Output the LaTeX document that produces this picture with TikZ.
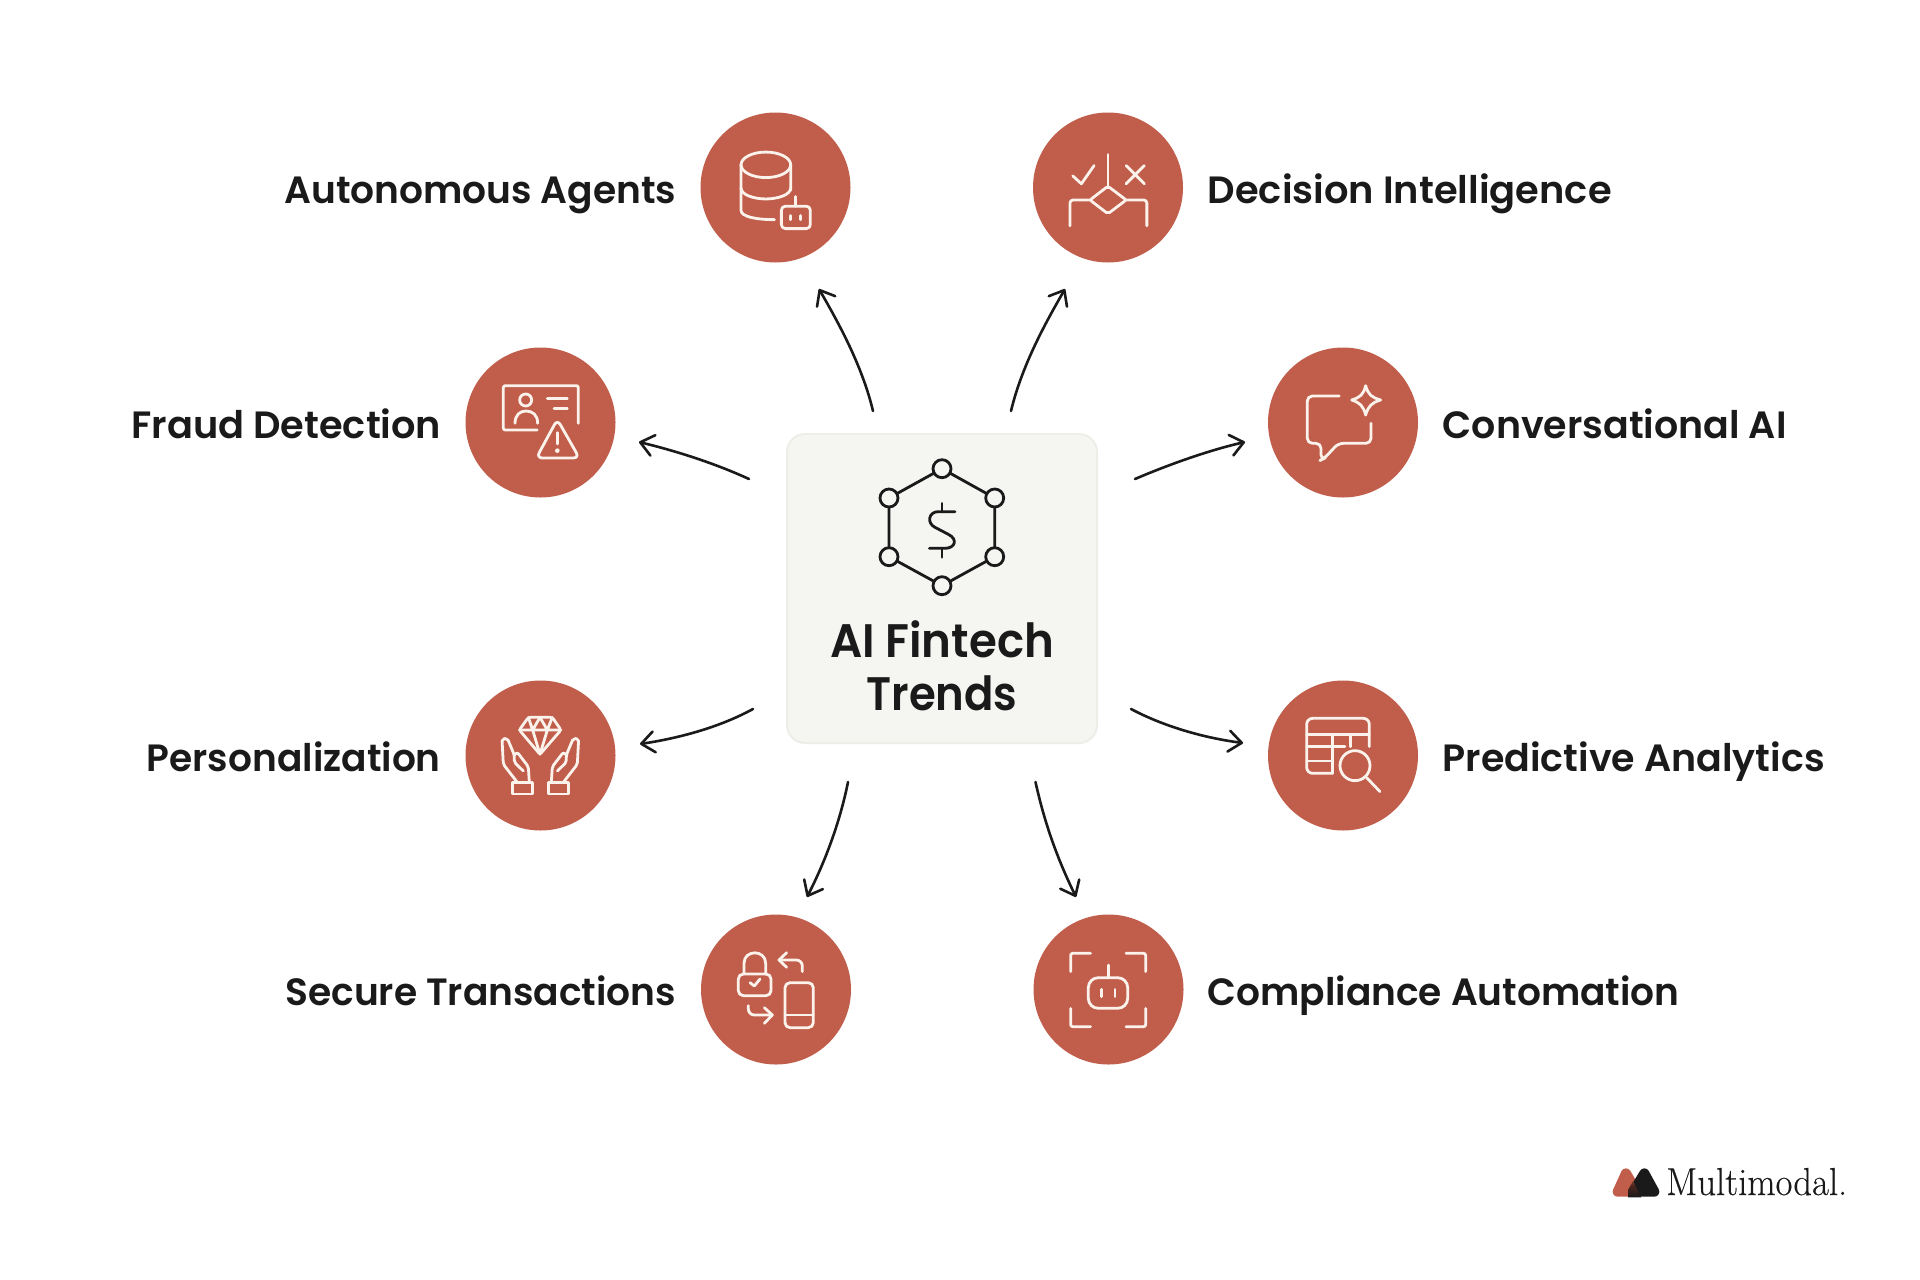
\documentclass[tikz,border=0pt]{standalone}
\usepackage{fontspec}
\usetikzlibrary{arrows.meta}
\newfontfamily\lab{Poppins SemiBold}
\newfontfamily\brandfont{Latin Modern Roman}[FakeBold=0.35]
\definecolor{coral}{HTML}{C15E4B}
\definecolor{ink}{HTML}{1A1A1A}
\definecolor{boxfill}{HTML}{F5F5F2}
\definecolor{boxline}{HTML}{EEEEE8}
\definecolor{iconline}{HTML}{FBF2EC}
\newcommand\fitw[2]{\setbox0\hbox{#2}\pgfmathsetmacro\myr{#1/\the\wd0}\scalebox{\myr}[1]{\box0}}
\tikzset{
  x=1pt,y=-1pt,
  badge/.style={circle,fill=coral,minimum size=150pt,inner sep=0pt},
  labeltext/.style={inner sep=0pt,text=ink,font=\lab\fontsize{38}{44}\selectfont},
  leftlabel/.style={labeltext,anchor=base east},
  rightlabel/.style={labeltext,anchor=base west},
  conn/.style={draw=ink,line width=2.6pt,line cap=round,-{Straight Barb[length=13pt,width=21pt,round,line width=2.6pt]}},
  ic/.style={draw=iconline,line width=2.8pt,line cap=round,line join=round},
  hub/.style={draw=ink,line width=2.8pt,line cap=round,line join=round},
  zoomed/.style={x=.3333pt,y=-.3333pt}
}
\begin{document}
\begin{tikzpicture}
\useasboundingbox (0,0) rectangle (1920,1280);
\fill[white] (0,0) rectangle (1920,1280);
% centre card
\draw[fill=boxfill,draw=boxline,line width=2pt,rounded corners=18pt] (787,434) rectangle (1097,743);
\node[inner sep=0pt,text=ink,align=center,font=\lab\fontsize{47}{53}\selectfont] (title) at (942,666) {\fitw{224}{AI Fintech}\\\fitw{151}{Trends}};
% hexagon icon
\coordinate (h1) at (942,468.7);
\coordinate (h2) at (994.7,498);
\coordinate (h3) at (994.7,556.7);
\coordinate (h4) at (942,585.7);
\coordinate (h5) at (889,556.7);
\coordinate (h6) at (889,498);
\draw[hub] (h1)--(h2)--(h3)--(h4)--(h5)--(h6)--cycle;
\foreach \h in {h1,h2,h3,h4,h5,h6} \draw[hub,fill=boxfill] (\h) circle (9pt);
\begin{scope}[shift={(760,420)},zoomed]
\draw[hub] (585,275)--(535,275) .. controls (505,275) and (500,310) .. (525,322) -- (565,343) .. controls (595,358) and (585,385) .. (555,385) -- (508,385);
\draw[hub] (546,250)--(546,275) (546,385)--(546,412);
\end{scope}
% badges
\node[badge] (agents) at (775.5,187.5) {};
\node[badge] (decision) at (1108,187.5) {};
\node[badge] (fraud) at (540.5,422.5) {};
\node[badge] (conv) at (1343,422.5) {};
\node[badge] (pers) at (540.5,755.5) {};
\node[badge] (pred) at (1343,755.5) {};
\node[badge] (secure) at (776,989.5) {};
\node[badge] (comp) at (1108.5,989.5) {};
% labels
\node[leftlabel] (lagents) at (676.5,203) {\fitw{392}{Autonomous Agents}};
\node[rightlabel] (ldecision) at (1207.5,203) {\fitw{404}{Decision Intelligence}};
\node[leftlabel] (lfraud) at (441.5,438) {\fitw{310}{Fraud Detection}};
\node[rightlabel] (lconv) at (1442.5,438) {\fitw{344}{Conversational AI}};
\node[leftlabel] (lpers) at (441,771) {\fitw{294}{Personalization}};
\node[rightlabel] (lpred) at (1442.5,771) {\fitw{382}{Predictive Analytics}};
\node[leftlabel] (lsecure) at (676.5,1005) {\fitw{391}{Secure Transactions}};
\node[rightlabel] (lcomp) at (1207.5,1005) {\fitw{472}{Compliance Automation}};
% connectors
\coordinate (s1) at (873,411); \coordinate (e1) at (819,289);
\coordinate (s2) at (1011,411); \coordinate (e2) at (1065,289);
\coordinate (s3) at (749,479); \coordinate (e3) at (639,442);
\coordinate (s4) at (1135,479); \coordinate (e4) at (1245,442);
\coordinate (s5) at (753,709); \coordinate (e5) at (640,744);
\coordinate (s6) at (1131,709); \coordinate (e6) at (1243,743);
\coordinate (s7) at (848,782); \coordinate (e7) at (807,897);
\coordinate (s8) at (1035.5,782); \coordinate (e8) at (1076,897);
\draw[conn] (s1) .. controls (862,365) and (838,322) .. (e1);
\draw[conn] (s2) .. controls (1022,365) and (1046,322) .. (e2);
\draw[conn] (s3) .. controls (712,462) and (672,450) .. (e3);
\draw[conn] (s4) .. controls (1170,464) and (1210,450) .. (e4);
\draw[conn] (s5) .. controls (720,727) and (680,738) .. (e5);
\draw[conn] (s6) .. controls (1165,727) and (1205,738) .. (e6);
\draw[conn] (s7) .. controls (840,822) and (825,862) .. (e7);
\draw[conn] (s8) .. controls (1045,825) and (1058,860) .. (e8);
% icon: agents
\begin{scope}[shift={(690,100)},x=.3448pt,y=-.3448pt]
\draw[ic] (220,188) ellipse [x radius=72,y radius=37];
\draw[ic] (292,188)--(292,262) (148,188)--(148,320) .. controls (148,338) and (190,347) .. (245,347);
\draw[ic] (148,255) .. controls (148,275) and (185,287) .. (220,287) .. controls (255,287) and (292,275) .. (292,255);
\draw[ic,rounded corners=4pt] (265,308) rectangle (349,373);
\draw[ic] (306,280)--(306,308) (292,335)--(292,347) (320,335)--(320,347);
\end{scope}
% icon: decision
\begin{scope}[shift={(690,100)},x=.3448pt,y=-.3448pt]
\draw[ic] (1212,158)--(1212,250);
\draw[ic,rounded corners=2pt] (1212,250)--(1265,290)--(1212,330)--(1160,290)--cycle;
\draw[ic,rounded corners=3pt] (1160,290)--(1102,290)--(1102,365);
\draw[ic,rounded corners=3pt] (1265,290)--(1325,290)--(1325,365);
\draw[ic] (1110,220)--(1135,243)--(1172,190);
\draw[ic] (1265,190)--(1318,243) (1318,190)--(1265,243);
\end{scope}
% icon: fraud
\begin{scope}[shift={(460,340)},zoomed]
\draw[ic,rounded corners=2pt] (232,270)--(130,270)--(130,137)--(355,137)--(355,250);
\draw[ic] (197,180) circle (6pt);
\draw[ic] (165,250) .. controls (165,225) and (180,213) .. (198,213) .. controls (218,213) and (233,225) .. (233,250);
\draw[ic] (262,175)--(322,175) (282,205)--(322,205);
\draw[ic,rounded corners=6pt] (292,238)--(358,354)--(229,354)--cycle;
\draw[ic] (292,278)--(292,312);
\fill[iconline] (292,332) circle (2.3pt);
\end{scope}
% icon: conversational
\begin{scope}[shift={(1260,340)},zoomed]
\draw[ic,rounded corners=5pt] (238,168)--(142,168)--(142,310)--(183,310)--(183,360)--(193,355)--(235,310)--(333,310)--(333,250);
\draw[ic] (317,137) .. controls (325,165) and (335,172) .. (362,180) .. controls (335,188) and (325,198) .. (317,225) .. controls (310,198) and (300,188) .. (275,180) .. controls (300,172) and (310,165) .. (317,137) -- cycle;
\end{scope}
% icon: personalization
\begin{scope}[shift={(460,675)},zoomed]
\draw[ic,rounded corners=2pt] (205,127)--(277,127)--(303,165)--(240,238)--(178,165)--cycle;
\draw[ic] (178,165)--(303,165) (205,127)--(218,165)--(240,238)--(262,165)--(277,127) (218,165)--(240,127)--(262,165);
\draw[ic] (157,322) rectangle (218,357);
\draw[ic,rounded corners=2pt] (172,322)--(130,268)--(126,192)--(142,190)--(163,240)--(163,262)--(190,288);
\draw[ic,rounded corners=2pt] (163,240)--(172,232)--(205,275)--(208,322);
\draw[ic] (265,322) rectangle (325,357);
\draw[ic,rounded corners=2pt] (310,322)--(352,268)--(356,192)--(340,190)--(319,240)--(319,262)--(292,288);
\draw[ic,rounded corners=2pt] (319,240)--(310,232)--(277,275)--(274,322);
\end{scope}
% icon: predictive
\begin{scope}[shift={(1260,675)},zoomed]
\draw[ic,rounded corners=6pt] (218,295)--(140,295)--(140,130)--(328,130)--(328,215);
\draw[ic] (140,178)--(328,178) (218,178)--(218,295) (272,178)--(272,215) (140,215)--(255,215) (140,258)--(218,258);
\draw[ic] (285,272) circle (15pt);
\draw[ic] (320,308)--(360,350);
\end{scope}
% icon: secure
\begin{scope}[shift={(695,910)},zoomed]
\draw[ic,rounded corners=5pt] (130,192) rectangle (228,257);
\draw[ic] (147,192)--(147,160) .. controls (147,118) and (212,118) .. (212,160) -- (212,192);
\draw[ic] (165,218)--(178,228)--(195,207);
\draw[ic,rounded corners=6pt] (322,185)--(322,150)--(252,150);
\draw[ic] (275,128)--(252,150)--(275,172);
\draw[ic,rounded corners=5pt] (270,218) rectangle (355,353);
\draw[ic] (270,315)--(355,315);
\draw[ic,rounded corners=6pt] (160,287)--(160,315)--(232,315);
\draw[ic] (208,293)--(232,315)--(208,340);
\end{scope}
% icon: compliance
\begin{scope}[shift={(1025,910)},zoomed]
\draw[ic,rounded corners=2pt] (137,185)--(137,130)--(197,130);
\draw[ic,rounded corners=2pt] (303,130)--(362,130)--(362,185);
\draw[ic,rounded corners=2pt] (137,295)--(137,350)--(197,350);
\draw[ic,rounded corners=2pt] (303,350)--(362,350)--(362,295);
\draw[ic,rounded corners=10pt] (190,203) rectangle (308,295);
\draw[ic] (250,165)--(250,203) (229,238)--(229,260) (270,238)--(270,260);
\end{scope}
% logo
\begin{scope}[shift={(1600,1150)},zoomed]
\draw[fill=coral,draw=coral,line width=10pt,line join=round] (78,70)--(53,125)--(110,125)--cycle;
\draw[fill=ink,draw=ink,line width=10pt,line join=round] (133,70)--(100,125)--(163,125)--cycle;
\begin{scope}
\clip (78,52)--(30,146)--(126,146)--cycle;
\shade[top color=coral,bottom color=ink,middle color=black!60!coral] (112,70)--(84,120)--(84,142)--(126,142)--(126,100)--cycle;
\end{scope}
\end{scope}
\node[anchor=base west,inner sep=0pt,text=ink,font=\brandfont\fontsize{39}{44}\selectfont] (brand) at (1666,1195) {\fitw{181}{Multimodal.}};
\end{tikzpicture}
\end{document}
